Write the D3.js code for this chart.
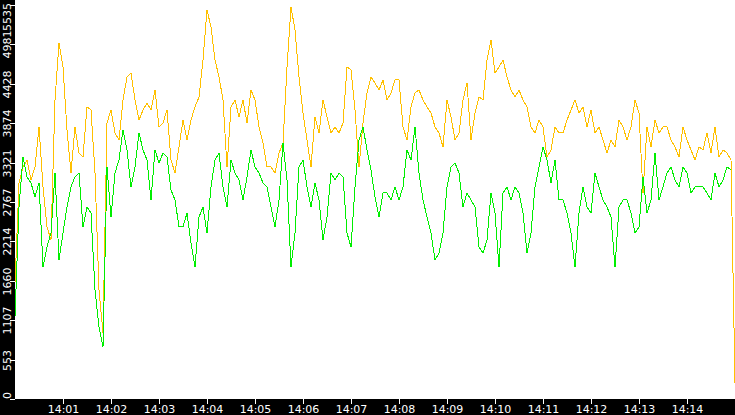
<!DOCTYPE html>
<html>
<head>
<style>
	body { margin:0; background:#fff; }
	text { font-family: "DejaVu Sans", sans-serif; font-size: 11px; fill: #fff; }
</style>
</head>
<body>
<svg width="735" height="415"></svg>
<script src="https://cdnjs.cloudflare.com/ajax/libs/d3/7.8.5/d3.min.js"></script>
<script>
	// samples every 5 seconds from 14:00:00
	var startTime = new Date(2020, 0, 1, 14, 0, 0);
	var stepSec = 5;
	var yTicks = [0, 553, 1107, 1660, 2214, 2767, 3321, 3874, 4428, 4981, 5535];

	var orange = [1630,3035,3260,3358,3077,3260,3822,2979,2417,2234,4201,5002,4665,3779,3175,3822,3456,3400,4103,4060,3175,1531,927,3878,4060,3737,3639,4201,4524,4580,4201,3920,4060,4159,4060,4341,3822,3878,4060,3358,3175,3541,3920,3639,3920,
		4103,4243,4763,5465,5227,4763,4524,4201,3260,4103,4201,3962,4201,3878,4341,4201,3822,3597,3260,3260,3175,3456,3597,4665,5508,5184,4524,4018,3639,3260,3962,3737,4201,3962,3737,3822,3737,3878,4665,4622,4060,3260,3878,4299,4524,
		4440,4341,4482,4201,4299,4482,4482,3822,3639,4103,4299,4341,4201,4103,4018,3822,3737,3541,4201,3962,3639,3737,4201,4440,3639,4018,4243,4201,4763,5044,4580,4665,4763,4524,4341,4243,4341,4201,4103,3822,3737,3920,3822,3400,3498,
		3822,3737,3737,3920,4060,4201,4018,4103,3822,4060,3737,3822,3639,3456,3639,3541,3920,3822,3639,3822,4201,4018,2894,3822,3541,3920,3737,3822,3822,3639,3541,3400,3822,3639,3498,3358,3541,3498,3737,3456,3822,3400,3498,3456,3358,225];

	var green = [1152,2698,3400,3119,3035,2838,3035,1855,2136,2332,3175,1953,2332,2698,2979,3119,3175,2417,2698,2613,1531,1012,731,3260,2557,3175,3358,3779,3498,2979,3260,3737,3498,3358,2796,3498,3316,3456,3400,2936,2796,2417,2417,2613,2192,
		1855,2557,2698,2332,2979,3358,3456,2979,2698,3358,3175,3077,2796,3119,3498,3260,3175,3035,2979,2698,2417,2796,3597,3077,1855,2332,3260,3358,2979,2698,3035,2796,2234,2557,3175,3077,3175,3119,2332,2136,2979,3639,3822,3498,3217,
		2838,2557,2894,2894,2796,2979,2796,2979,3498,3358,3822,3175,2796,2557,2332,1953,2051,2332,2979,3260,3316,3175,2698,2894,2796,2698,2136,2051,2234,2894,2613,1855,2894,2979,2796,2979,2894,2613,2051,2332,2979,3260,3541,3358,3035,
		3358,2796,2796,2613,2332,1855,2613,2979,2698,2613,3175,2979,2796,2698,2557,1855,2698,2796,2796,2613,2332,2417,3119,2613,2796,3456,2796,2979,3175,3260,3077,2979,3260,3175,2894,2979,2979,2979,2894,2796,3175,2979,3077,3260,3217];

	var svg = d3.select("svg");
	var left = 15, bottom = 399, W = 735, H = 415;

	var x = d3.scaleTime()
		.domain([startTime, d3.timeSecond.offset(startTime, 900)])
		.range([left, W]);
	var y = d3.scaleLinear().domain([0, 5605]).range([bottom, 0]);

	function timeOf(i){ return d3.timeSecond.offset(startTime, i * stepSec); }

	var line = d3.line()
		.x(function(d, i){ return x(timeOf(i)); })
		.y(function(d){ return y(d); });

	svg.append("path").datum(orange)
		.attr("d", line).attr("fill", "none")
		.attr("stroke", "#ffc000").attr("stroke-width", 1)
		.attr("shape-rendering", "crispEdges");
	svg.append("path").datum(green)
		.attr("d", line).attr("fill", "none")
		.attr("stroke", "#00ee00").attr("stroke-width", 1)
		.attr("shape-rendering", "crispEdges");

	// black axis bands
	svg.append("rect").attr("x", 0).attr("y", 0).attr("width", left).attr("height", H).attr("fill", "#000");
	svg.append("rect").attr("x", 0).attr("y", bottom).attr("width", W).attr("height", H - bottom).attr("fill", "#000");

	var xa = svg.append("g").attr("transform", "translate(0," + bottom + ")")
		.call(d3.axisBottom(x).ticks(d3.timeMinute.every(1)).tickFormat(d3.timeFormat("%H:%M")).tickSize(5).tickPadding(1));
	xa.select(".domain").remove();
	xa.selectAll("line").attr("stroke", "#fff");
	xa.selectAll("text").attr("fill", "#fff").style("font-size", "11px").attr("dy", "0.75em");
	xa.selectAll(".tick").filter(function(d){ return x(d) < 30 || x(d) > 715; }).remove();

	var ya = svg.append("g");
	yTicks.forEach(function(v){
		var py = Math.round(y(v)) + 0.5;
		var ty = py;
		if (v == 0) ty = py - 4;
		if (py < 20) ty = 17;
		ya.append("line").attr("x1", 10).attr("x2", 15).attr("y1", py).attr("y2", py).attr("stroke", "#fff");
		ya.append("text").attr("transform", "translate(11," + ty + ") rotate(-90)")
			.attr("text-anchor", "middle").text(v);
	});
</script>
</body>
</html>
